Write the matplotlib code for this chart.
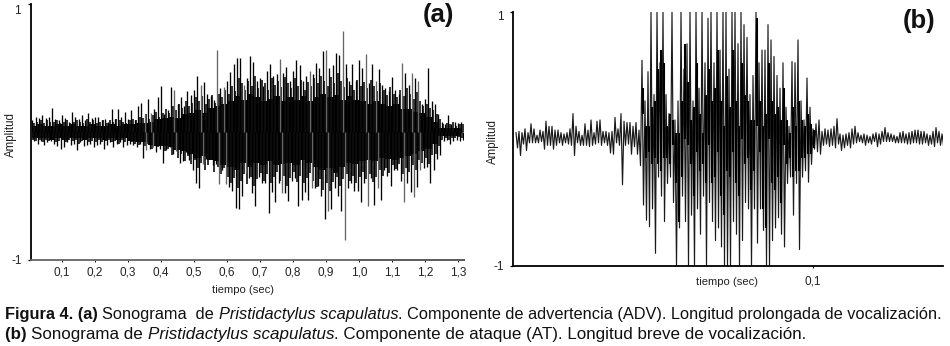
# %%
import numpy as np
import matplotlib
matplotlib.use('Agg')
import matplotlib.pyplot as plt

plt.rcParams['font.family'] = ['Liberation Sans', 'DejaVu Sans']

W, H = 950, 346

# %%
# panel (a): peak per 0.01 s column, second lower layer, solid core per 0.02 s column
a_upper = [.09,.12,.11,.13,.11,.12,.185,.10,.09,.13,
           .11,.08,.16,.12,.10,.13,.09,.145,.11,.12,
           .12,.09,.10,.08,.18,.10,.18,.12,.16,.10,
           .17,.09,.20,.23,.14,.26,.15,.18,.27,.36,
           .14,.17,.35,.33,.22,.27,.20,.32,.29,.33,
           .44,.37,.39,.30,.28,.25,.64,.34,.35,.40,
           .47,.53,.58,.58,.37,.42,.59,.55,.40,.42,
           .36,.48,.53,.44,.45,.57,.46,.51,.40,.48,
           .56,.52,.40,.44,.48,.45,.54,.50,.63,.64,
           .50,.52,.62,.60,.79,.53,.40,.53,.40,.56,
           .50,.61,.38,.53,.40,.49,.37,.34,.32,.43,
           .33,.30,.54,.46,.37,.46,.42,.40,.22,.26,
           .50,.24,.22,.14,.08,.06,.13,.06,.08,.07,
           .08,.09]
a_lower = [-.07,-.09,-.07,-.10,-.08,-.07,-.09,-.11,-.13,-.12,
           -.08,-.10,-.09,-.14,-.08,-.11,-.10,-.09,-.12,-.10,
           -.09,-.13,-.10,-.08,-.12,-.09,-.08,-.12,-.10,-.09,
           -.10,-.12,-.09,-.20,-.14,-.13,-.12,-.16,-.13,-.24,
           -.14,-.12,-.17,-.15,-.24,-.23,-.16,-.22,-.30,-.40,
           -.44,-.25,-.21,-.21,-.26,-.25,-.41,-.30,-.41,-.43,
           -.46,-.59,-.60,-.50,-.32,-.36,-.48,-.58,-.35,-.40,
           -.40,-.63,-.47,-.55,-.40,-.48,-.48,-.54,-.38,-.36,
           -.58,-.53,-.47,-.53,-.44,-.44,-.42,-.50,-.68,-.62,
           -.60,-.44,-.50,-.62,-.84,-.44,-.40,-.46,-.46,-.55,
           -.40,-.58,-.36,-.57,-.44,-.53,-.30,-.34,-.42,-.30,
           -.30,-.38,-.55,-.40,-.47,-.51,-.43,-.30,-.28,-.27,
           -.40,-.30,-.21,-.18,-.07,-.06,-.09,-.07,-.06,-.07,
           -.06,-.06]
a_mid_up = [.07,.08,.09,.07,.09,.08,.08,.09,.07,.08,
            .09,.07,.08,.09,.08,.07,.10,.08,.09,.07,
            .08,.09,.07,.09,.08,.10,.09,.08,.07,.09,
            .10,.09,.12,.11,.14,.10,.13,.16,.12,.15,
            .18,.15,.20,.17,.22,.19,.24,.20,.23,.27,
            .24,.28,.22,.26,.29,.23,.30,.27,.33,.30,
            .36,.32,.42,.38,.33,.40,.36,.44,.34,.41,
            .38,.33,.42,.37,.40,.35,.43,.38,.34,.42,
            .36,.41,.33,.39,.36,.42,.38,.44,.40,.36,
            .43,.38,.46,.40,.35,.42,.37,.33,.41,.36,
            .39,.34,.41,.36,.32,.38,.33,.29,.35,.30,
            .27,.33,.28,.34,.30,.26,.31,.24,.20,.22,
            .19,.17,.14,.10,.06,.07,.06,.08,.05,.06,
            .06,.05]
a_mid_low = [-.06,-.07,-.06,-.08,-.06,-.07,-.06,-.08,-.07,-.06,
             -.08,-.06,-.07,-.06,-.09,-.07,-.06,-.08,-.07,-.08,
             -.06,-.08,-.07,-.06,-.08,-.07,-.09,-.06,-.08,-.07,
             -.08,-.09,-.10,-.08,-.11,-.09,-.13,-.10,-.12,-.11,
             -.15,-.13,-.18,-.14,-.20,-.17,-.23,-.19,-.25,-.22,
             -.28,-.24,-.30,-.26,-.22,-.31,-.27,-.33,-.28,-.35,
             -.40,-.36,-.44,-.38,-.33,-.41,-.35,-.42,-.37,-.32,
             -.38,-.33,-.40,-.35,-.31,-.38,-.34,-.42,-.36,-.31,
             -.39,-.34,-.40,-.36,-.32,-.38,-.43,-.37,-.45,-.40,
             -.46,-.39,-.35,-.42,-.37,-.33,-.38,-.34,-.40,-.35,
             -.31,-.37,-.33,-.39,-.35,-.30,-.34,-.28,-.32,-.26,
             -.29,-.25,-.33,-.28,-.31,-.26,-.30,-.22,-.24,-.20,
             -.25,-.18,-.17,-.11,-.06,-.05,-.06,-.05,-.05,-.04,
             -.05,-.05]
a_core_up = [.05,.06,.05,.05,.06,.05,.06,.05,.05,.06,
             .05,.05,.06,.05,.06,.06,.07,.07,.08,.10,
             .11,.12,.11,.14,.15,.17,.15,.19,.20,.22,
             .24,.28,.25,.30,.27,.24,.26,.28,.24,.27,
             .25,.28,.24,.27,.30,.27,.29,.25,.28,.25,
             .24,.22,.24,.22,.20,.22,.18,.18,.16,.15,
             .12,.08,.03,.03,.03,.03]
a_core_low = [-.05,-.05,-.05,-.06,-.05,-.06,-.05,-.05,-.06,-.05,
              -.05,-.06,-.05,-.06,-.05,-.07,-.08,-.08,-.10,-.11,
              -.11,-.12,-.14,-.15,-.17,-.20,-.19,-.22,-.23,-.26,
              -.27,-.30,-.24,-.27,-.24,-.26,-.23,-.26,-.25,-.24,
              -.26,-.22,-.24,-.27,-.30,-.28,-.32,-.27,-.24,-.25,
              -.23,-.22,-.23,-.20,-.21,-.22,-.20,-.19,-.17,-.15,
              -.13,-.09,-.03,-.03,-.03,-.03]
a_gray = [.35,.37,.44,.52,.57,.59,.65,.76,.85,.90,.95,1.02,1.05,1.13,1.16,1.18]
a_ticks = [.1,.2,.3,.4,.5,.6,.7,.8,.9,1.0,1.1,1.2,1.3]
a_ticklabels = ['0,1','0,2','0,3','0,4','0,5','0,6','0,7','0,8','0,9','1,0','1,1','1,2','1,3']

# panel (b): high / low per 0.001 s column, thick blocks for columns 43..100
b_upper = [.05,.06,.05,.08,.05,.12,.08,.03,.07,.06,
           .14,.10,.10,.07,.07,.05,.04,.05,.08,.20,
           .10,.06,.03,.12,.07,.15,.05,.14,.15,.06,
           .06,.05,.06,.17,.08,.20,.14,.13,.13,.10,
           .13,.07,.62,.30,.53,1,.35,1,.60,1,
           .35,.20,1,.15,.30,1,.55,.75,1,.30,
           1,.40,1,.60,.95,1,.60,1,.70,1,
           1,.55,1,1,.75,1,.90,.80,.35,.50,
           1,.60,.70,.70,.90,.78,.65,.50,.40,.60,
           .25,.10,.61,.60,.78,.30,.15,.48,.25,.08,
           .12,.15,.06,.08,.07,.08,.10,.16,.04,.03,
           .04,.05,.08,.10,.05,.03,.04,.03,.02,.04,
           .05,.04,.06,.09,.05,.04,.03,.02,.05,.06,
           .04,.05,.06,.07,.07,.06,.06,.04,.03,.06,
           .09,.06,.04]
b_lower = [-.07,-.13,-.04,-.09,-.03,-.03,-.03,-.03,-.02,-.08,
           -.05,-.05,-.08,-.05,-.03,-.05,-.03,-.04,-.05,-.13,
           -.03,-.05,-.05,-.05,-.06,-.05,-.04,-.03,-.05,-.03,
           -.05,-.11,-.12,-.03,-.05,-.36,-.05,-.04,-.12,-.06,
           -.12,-.21,-.52,-.64,-.69,-.55,-.90,-.30,-.45,-.65,
           -.35,-.30,-.50,-1,-.70,-.45,-.65,-1,-.60,-1,
           -.55,-.75,-.45,-1,-.50,-.65,-.80,-.70,-.85,-1,
           -1,-1,-.65,-.75,-1,-.80,-.50,-.55,-1,-.55,
           -.82,-.55,-.72,-1,-1,-.80,-.70,-.62,-.75,-.85,
           -.35,-.30,-.60,-.35,-.87,-.30,-.25,-.34,-.20,-.08,
           -.10,-.12,-.05,-.04,-.06,-.05,-.07,-.04,-.09,-.07,
           -.05,-.07,-.04,-.03,-.02,-.03,-.05,-.03,-.04,-.02,
           -.06,-.04,-.02,-.02,-.02,-.02,-.03,-.03,-.03,-.03,
           -.04,-.04,-.03,-.03,-.04,-.04,-.03,-.05,-.04,-.06,
           -.03,-.05,-.05]
b_block_up = [.40,.10,.10,.25,.30,.55,.70,.60,.10,.20,
              .15,.05,.05,.30,.75,.45,.15,.25,.60,.20,
              .05,.35,.55,.30,.40,.70,.30,.10,.50,.25,
              .70,.30,.10,.60,.35,.30,.15,.15,.95,.30,
              .10,.20,.60,.30,.20,.25,.15,.40,.15,.05,
              .25,.10,.30,.15,.10,.20,.12,.07]
b_block_low = [.20,-.15,-.10,-.20,-.15,-.20,-.25,-.15,-.15,-.20,
               -.05,-.35,-.65,-.30,.0,-.05,-.20,-.45,-.10,-.25,
               -.20,-.35,-.05,-.35,-.30,-.10,-.45,-.60,-.25,-.30,
               -.10,-.35,-.45,.0,-.20,-.15,-.40,-.25,.10,-.10,
               -.55,-.70,.0,-.35,-.40,-.30,-.50,-.05,-.20,-.15,
               -.30,-.25,-.25,-.15,-.15,-.12,-.12,-.07]
b_block_first = 43
b_ticks = [.1]
b_ticklabels = ['0,1']

cap_line1 = [('Figura 4. (a) ', 'bold', 'normal'), ('Sonograma  de ', 'normal', 'normal'),
             ('Pristidactylus scapulatus', 'normal', 'italic'),
             ('. Componente de advertencia (ADV). Longitud prolongada de vocalización.', 'normal', 'normal')]
cap_line2 = [('(b) ', 'bold', 'normal'), ('Sonograma de ', 'normal', 'normal'),
             ('Pristidactylus scapulatus', 'normal', 'italic'),
             ('. Componente de ataque (AT). Longitud breve de vocalización.', 'normal', 'normal')]

# %%
def add_ax(fig, x0, x1, y_top, y_bot):
    '''axes from pixel edges, y counted from the top'''
    return fig.add_axes([x0/W, 1-y_bot/H, (x1-x0)/W, (y_bot-y_top)/H])

def style(ax, xticks, xlabels, pad, one_x, one_y):
    ax.set_ylim(-1, 1)
    ax.set_yticks([-1, 1])
    ax.set_yticklabels(['-1', ''], fontsize=8.5, color='#222222')
    # the "1" sits a little below its tick in the original
    ax.text(one_x, one_y, '1', transform=ax.get_yaxis_transform(), fontsize=8.5,
            color='#222222', ha='right', va='center')
    ax.set_xticks(xticks)
    ax.set_xticklabels(xlabels, fontsize=8.5, color='#222222')
    ax.tick_params(axis='x', length=1.5, width=0.7, pad=pad)
    ax.tick_params(axis='y', length=2.5, width=0.9, pad=4)
    for s in ['top', 'right']:
        ax.spines[s].set_visible(False)
    ax.spines['left'].set_linewidth(1.3)
    ax.spines['bottom'].set_linewidth(1.3)
    ax.set_ylabel('Amplitud', fontsize=8.3, color='#222222', va='center')
    ax.set_xlabel('tiempo (sec)', fontsize=8.1, color='#222222', va='center')

def caption(fig, runs, x, y, size):
    r = fig.canvas.get_renderer()
    for txt, weight, slant in runs:
        fig.text(x/W, 1-y/H, txt, fontsize=size, fontweight=weight, fontstyle=slant,
                 va='center', ha='left', color='#111111')
        a = fig.text(0, 0, txt+'|', fontsize=size, fontweight=weight, fontstyle=slant)
        b = fig.text(0, 0, '|', fontsize=size, fontweight=weight, fontstyle=slant)
        x += a.get_window_extent(r).width - b.get_window_extent(r).width
        a.remove()
        b.remove()

# %%
fig = plt.figure(figsize=(W/100, H/100), dpi=100)

ax1 = add_ax(fig, 31, 464, 4, 260)
t1 = np.arange(1, len(a_upper)+1)*0.01
t_core = t1[::2]
colors = ['#666666' if np.min(np.abs(np.array(a_gray)-t)) < 1e-6 else 'black' for t in t1]
ax1.fill_between(t_core, a_core_low, a_core_up, step='mid', color='black', lw=0)
ax1.vlines(t1+0.005, 0, a_mid_up, colors='#111111', lw=1.2)
ax1.vlines(t1+0.002, a_mid_low, 0, colors='#111111', lw=1.2)
ax1.vlines(t1, 0, a_upper, colors=colors, lw=0.95)
ax1.vlines(t1+0.006, a_lower, 0, colors=colors, lw=0.95)
ax1.set_xlim(0.00606, 1.318)
style(ax1, a_ticks, a_ticklabels, 3, -0.023, 0.945)
ax1.spines['bottom'].set_color('#666666')
ax1.axhline(-1, xmin=(1.0-0.00606)/(1.318-0.00606), color='black', lw=1.3, clip_on=False)
ax1.yaxis.set_label_coords(-0.046, 0.49)
ax1.xaxis.set_label_coords(0.49, -0.117)

ax2 = add_ax(fig, 513, 943, 12, 266)
up = np.array(b_upper)
low = np.array(b_lower)
t2 = np.arange(1, len(up)+1)*0.001
x_zig = np.column_stack((t2, t2+0.0005)).ravel()
y_zig = np.column_stack((up, low)).ravel()
ax2.plot(x_zig, y_zig, color='#1a1a1a', lw=0.85)
t_block = t2[b_block_first-1:b_block_first-1+len(b_block_up)]
ax2.vlines(t_block+0.0002, b_block_low, b_block_up, colors='black', lw=1.5)
ax2.set_xlim(0, 0.14333)
style(ax2, b_ticks, b_ticklabels, 5, -0.021, 0.96)
ax2.yaxis.set_label_coords(-0.047, 0.49)
ax2.xaxis.set_label_coords(0.498, -0.063)

fig.text(438/W, 1-15/H, '(a)', fontsize=18.5, fontweight='bold', ha='center', va='center', color='#111111')
fig.text(919/W, 1-21/H, '(b)', fontsize=18.5, fontweight='bold', ha='center', va='center', color='#111111')

fig.canvas.draw()
caption(fig, cap_line1, 5, 314, 11.8)
caption(fig, cap_line2, 5, 335, 12.25)

fig.savefig('out.png', dpi=100, facecolor='white')
